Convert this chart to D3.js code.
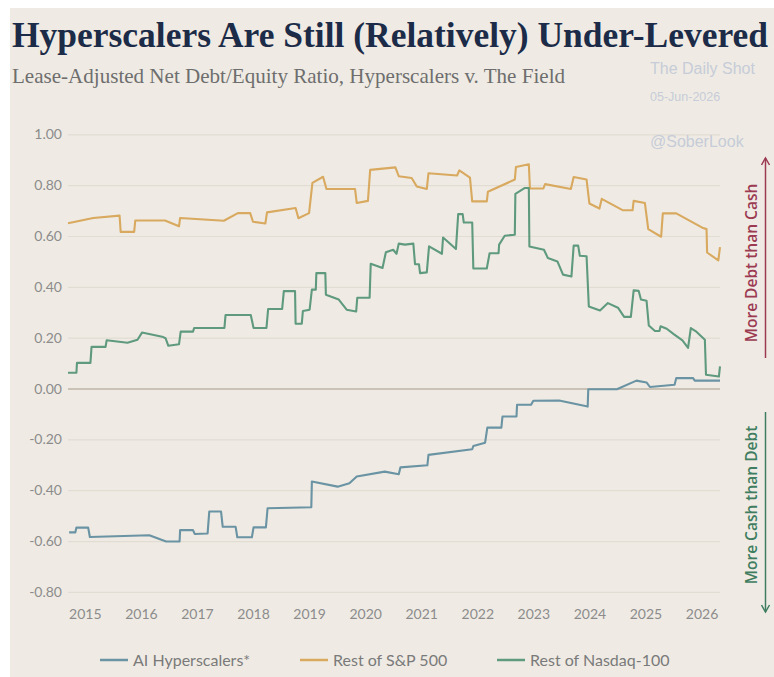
<!DOCTYPE html>
<html>
<head>
<meta charset="utf-8">
<script src="https://cdn.jsdelivr.net/npm/d3@7"></script>
<style>
  html, body { margin: 0; padding: 0; background: #ffffff; }
  svg { display: block; }
</style>
</head>
<body>
<div id="chart"></div>
<script>
// Lease-adjusted net debt / equity.
// Each series is a list of [decimal year, ratio] points; the step
// shape comes from pairs of points sitting close together in time.
const aiHyperscalers = [
  [2014.72,-0.566],[2014.83,-0.566],[2014.85,-0.547],[2015.06,-0.547],[2015.09,-0.584],
  [2016.15,-0.577],[2016.45,-0.602],[2016.69,-0.602],[2016.70,-0.557],[2016.93,-0.557],
  [2016.96,-0.572],[2017.19,-0.570],[2017.22,-0.484],[2017.43,-0.484],[2017.46,-0.544],
  [2017.69,-0.544],[2017.72,-0.585],[2017.98,-0.585],[2018.01,-0.546],[2018.23,-0.546],
  [2018.26,-0.471],[2019.04,-0.467],[2019.05,-0.366],[2019.51,-0.386],[2019.72,-0.373],
  [2019.85,-0.346],[2020.35,-0.327],[2020.60,-0.337],[2020.63,-0.310],[2021.11,-0.302],
  [2021.13,-0.261],[2021.91,-0.239],[2021.93,-0.226],[2022.14,-0.213],[2022.18,-0.154],
  [2022.43,-0.154],[2022.45,-0.110],[2022.70,-0.110],[2022.71,-0.064],[2022.96,-0.064],
  [2023.00,-0.048],[2023.46,-0.047],[2023.97,-0.071],[2023.98,-0.003],[2024.49,-0.003],
  [2024.84,0.031],[2025.02,0.024],[2025.08,0.006],[2025.52,0.015],[2025.55,0.041],
  [2025.85,0.041],[2025.88,0.031],[2026.33,0.031]
];

const restOfSP500 = [
  [2014.70,0.650],[2015.15,0.671],[2015.62,0.680],[2015.64,0.616],[2015.88,0.616],
  [2015.90,0.661],[2016.43,0.661],[2016.68,0.638],[2016.70,0.671],[2017.48,0.660],
  [2017.73,0.690],[2017.95,0.690],[2018.00,0.656],[2018.22,0.649],[2018.25,0.693],
  [2018.76,0.710],[2018.81,0.670],[2019.00,0.690],[2019.06,0.809],[2019.25,0.833],
  [2019.31,0.785],[2019.82,0.785],[2019.85,0.730],[2020.05,0.738],[2020.09,0.860],
  [2020.54,0.870],[2020.60,0.835],[2020.83,0.828],[2020.92,0.795],[2021.10,0.785],
  [2021.13,0.847],[2021.64,0.838],[2021.68,0.858],[2021.87,0.830],[2021.91,0.736],
  [2022.17,0.736],[2022.19,0.774],[2022.67,0.822],[2022.69,0.871],[2022.92,0.882],
  [2022.94,0.787],[2023.18,0.787],[2023.21,0.804],[2023.67,0.785],[2023.72,0.832],
  [2023.95,0.822],[2024.00,0.728],[2024.18,0.708],[2024.22,0.746],[2024.60,0.701],
  [2024.77,0.701],[2024.79,0.738],[2024.99,0.730],[2025.05,0.627],[2025.28,0.597],
  [2025.31,0.689],[2025.55,0.689],[2026.03,0.631],[2026.09,0.627],[2026.10,0.535],
  [2026.30,0.504],[2026.33,0.556]
];

const restOfNasdaq100 = [
  [2014.70,0.062],[2014.85,0.062],[2014.86,0.101],[2015.10,0.101],[2015.12,0.164],
  [2015.37,0.164],[2015.39,0.190],[2015.76,0.180],[2015.94,0.192],[2016.02,0.220],
  [2016.38,0.204],[2016.44,0.198],[2016.49,0.168],[2016.68,0.174],[2016.71,0.224],
  [2016.93,0.224],[2016.95,0.238],[2017.49,0.238],[2017.51,0.289],[2017.96,0.289],
  [2018.01,0.238],[2018.24,0.238],[2018.27,0.313],[2018.52,0.313],[2018.55,0.383],
  [2018.75,0.383],[2018.76,0.255],[2018.87,0.255],[2018.89,0.305],[2019.01,0.310],
  [2019.05,0.389],[2019.12,0.389],[2019.13,0.454],[2019.29,0.454],[2019.30,0.369],
  [2019.53,0.350],[2019.67,0.310],[2019.84,0.303],[2019.86,0.357],[2020.08,0.357],
  [2020.10,0.491],[2020.31,0.474],[2020.37,0.536],[2020.50,0.546],[2020.56,0.530],
  [2020.60,0.570],[2020.71,0.566],[2020.86,0.570],[2020.89,0.489],[2020.96,0.489],
  [2020.98,0.454],[2021.10,0.457],[2021.14,0.559],[2021.37,0.530],[2021.39,0.594],
  [2021.62,0.549],[2021.66,0.686],[2021.74,0.686],[2021.76,0.653],[2021.91,0.653],
  [2021.93,0.472],[2022.17,0.472],[2022.22,0.532],[2022.38,0.532],[2022.39,0.566],
  [2022.49,0.601],[2022.67,0.605],[2022.68,0.766],[2022.85,0.789],[2022.92,0.789],
  [2022.93,0.559],[2023.19,0.546],[2023.26,0.513],[2023.43,0.500],[2023.53,0.448],
  [2023.68,0.441],[2023.72,0.562],[2023.80,0.562],[2023.83,0.522],[2023.95,0.520],
  [2023.99,0.323],[2024.19,0.307],[2024.33,0.336],[2024.51,0.318],[2024.62,0.282],
  [2024.74,0.282],[2024.79,0.386],[2024.88,0.384],[2024.92,0.350],[2025.02,0.345],
  [2025.06,0.248],[2025.17,0.226],[2025.25,0.226],[2025.27,0.245],[2025.38,0.235],
  [2025.51,0.213],[2025.66,0.189],[2025.76,0.160],[2025.81,0.238],[2025.90,0.225],
  [2026.06,0.192],[2026.08,0.054],[2026.31,0.047],[2026.33,0.087]
];

const seriesNames = ["AI Hyperscalers*", "Rest of S&P 500", "Rest of Nasdaq-100"];
const seriesColors = ["#6a93a3", "#d8a95f", "#5f9a7e"];
const yearTicks = [2015, 2016, 2017, 2018, 2019, 2020, 2021, 2022, 2023, 2024, 2025, 2026];
const yTicks = [-0.8, -0.6, -0.4, -0.2, 0, 0.2, 0.4, 0.6, 0.8, 1.0];

const W = 774, H = 677;
const plot = { left: 68, right: 720, top: 134.3, bottom: 591.9 };

const svg = d3.select("#chart").append("svg")
  .attr("width", W)
  .attr("height", H);

// paper background (the scan has a thin white strip on top and left)
svg.append("rect")
  .attr("x", 10).attr("y", 8)
  .attr("width", W - 10).attr("height", H - 8)
  .attr("fill", "#efebe4");

const x = d3.scaleLinear().domain([2014.70, 2026.33]).range([plot.left, plot.right]);
const y = d3.scaleLinear().domain([-0.8, 1.0]).range([plot.bottom, plot.top]);

const fmt = d3.formatLocale({ decimal: ".", thousands: ",", grouping: [3], currency: ["$", ""], minus: "-" })
  .format(".2f");

// y axis with gridlines
svg.append("g")
  .attr("transform", `translate(${plot.left},0)`)
  .call(d3.axisLeft(y).tickValues(yTicks).tickFormat(fmt)
    .tickSize(-(plot.right - plot.left)).tickPadding(6))
  .call(g => g.select(".domain").remove())
  .call(g => g.selectAll(".tick line")
    .attr("stroke", d => d === 0 ? "#bdb5a6" : "#e2ddd3")
    .attr("stroke-width", d => d === 0 ? 1.6 : 1.2))
  .call(g => g.selectAll(".tick text")
    .attr("fill", "#8c8c8c")
    .attr("font-family", "Lato, 'Open Sans', sans-serif")
    .attr("font-size", 14));

// x axis: labels only
svg.append("g")
  .attr("transform", `translate(0,${plot.bottom})`)
  .call(d3.axisBottom(x).tickValues(yearTicks).tickFormat(d3.format("d"))
    .tickSize(0).tickPadding(17))
  .call(g => g.select(".domain").remove())
  .call(g => g.selectAll(".tick text")
    .attr("fill", "#8c8c8c")
    .attr("font-family", "Lato, 'Open Sans', sans-serif")
    .attr("font-size", 14));

const line = d3.line().x(d => x(d[0])).y(d => y(d[1]));

[aiHyperscalers, restOfSP500, restOfNasdaq100].forEach((data, i) => {
  svg.append("path")
    .datum(data)
    .attr("d", line)
    .attr("fill", "none")
    .attr("stroke", seriesColors[i])
    .attr("stroke-width", 2.1)
    .attr("stroke-linejoin", "round");
});

// title and subtitle (condensed serif in the original, so squeeze to width)
svg.append("text")
  .attr("x", 12).attr("y", 47)
  .attr("font-family", "'Liberation Serif', 'DejaVu Serif', serif")
  .attr("font-weight", "bold")
  .attr("font-size", 35)
  .attr("fill", "#1c2b48")
  .attr("textLength", 756)
  .attr("lengthAdjust", "spacingAndGlyphs")
  .text("Hyperscalers Are Still (Relatively) Under-Levered");

svg.append("text")
  .attr("x", 12).attr("y", 83)
  .attr("font-family", "'Liberation Serif', 'DejaVu Serif', serif")
  .attr("font-size", 21.5)
  .attr("fill", "#6e6e6e")
  .attr("textLength", 553)
  .attr("lengthAdjust", "spacingAndGlyphs")
  .text("Lease-Adjusted Net Debt/Equity Ratio, Hyperscalers v. The Field");

// watermark
const wm = svg.append("g")
  .attr("font-family", "'Liberation Sans', Arial, sans-serif")
  .attr("fill", "#c6ccd8");
wm.append("text").attr("x", 650).attr("y", 74).attr("font-size", 16).text("The Daily Shot");
wm.append("text").attr("x", 650).attr("y", 101).attr("font-size", 12.5).text("05-Jun-2026");
wm.append("text").attr("x", 650).attr("y", 147).attr("font-size", 16).text("@SoberLook");

// right-hand direction notes
const notes = [
  { text: "More Debt than Cash", color: "#9c3a52", cy: 263, y1: 358, y2: 158 },
  { text: "More Cash than Debt", color: "#3f7d60", cy: 505, y1: 412, y2: 612 }
];
notes.forEach(n => {
  svg.append("text")
    .attr("transform", `translate(757,${n.cy}) rotate(-90)`)
    .attr("text-anchor", "middle")
    .attr("font-family", "'Open Sans', Lato, sans-serif")
    .attr("font-weight", 600)
    .attr("font-size", 15.5)
    .attr("fill", n.color)
    .text(n.text);
  svg.append("line")
    .attr("x1", 765.5).attr("x2", 765.5)
    .attr("y1", n.y1).attr("y2", n.y2)
    .attr("stroke", n.color).attr("stroke-width", 1.5);
  const dir = n.y2 < n.y1 ? 1 : -1;
  svg.append("path")
    .attr("d", `M${765.5 - 4},${n.y2 + dir * 7} L765.5,${n.y2} L${765.5 + 4},${n.y2 + dir * 7}`)
    .attr("fill", "none")
    .attr("stroke", n.color).attr("stroke-width", 1.5);
});

// legend
const legendX = [100, 300, 497];
const legend = svg.append("g").attr("transform", "translate(0,660)");
seriesNames.forEach((name, i) => {
  legend.append("line")
    .attr("x1", legendX[i]).attr("x2", legendX[i] + 28)
    .attr("stroke", seriesColors[i]).attr("stroke-width", 2.5);
  legend.append("text")
    .attr("x", legendX[i] + 33).attr("y", 5.5)
    .attr("font-family", "Lato, 'Open Sans', sans-serif")
    .attr("font-size", 16)
    .attr("fill", "#7a7a7a")
    .text(name);
});
</script>
</body>
</html>
